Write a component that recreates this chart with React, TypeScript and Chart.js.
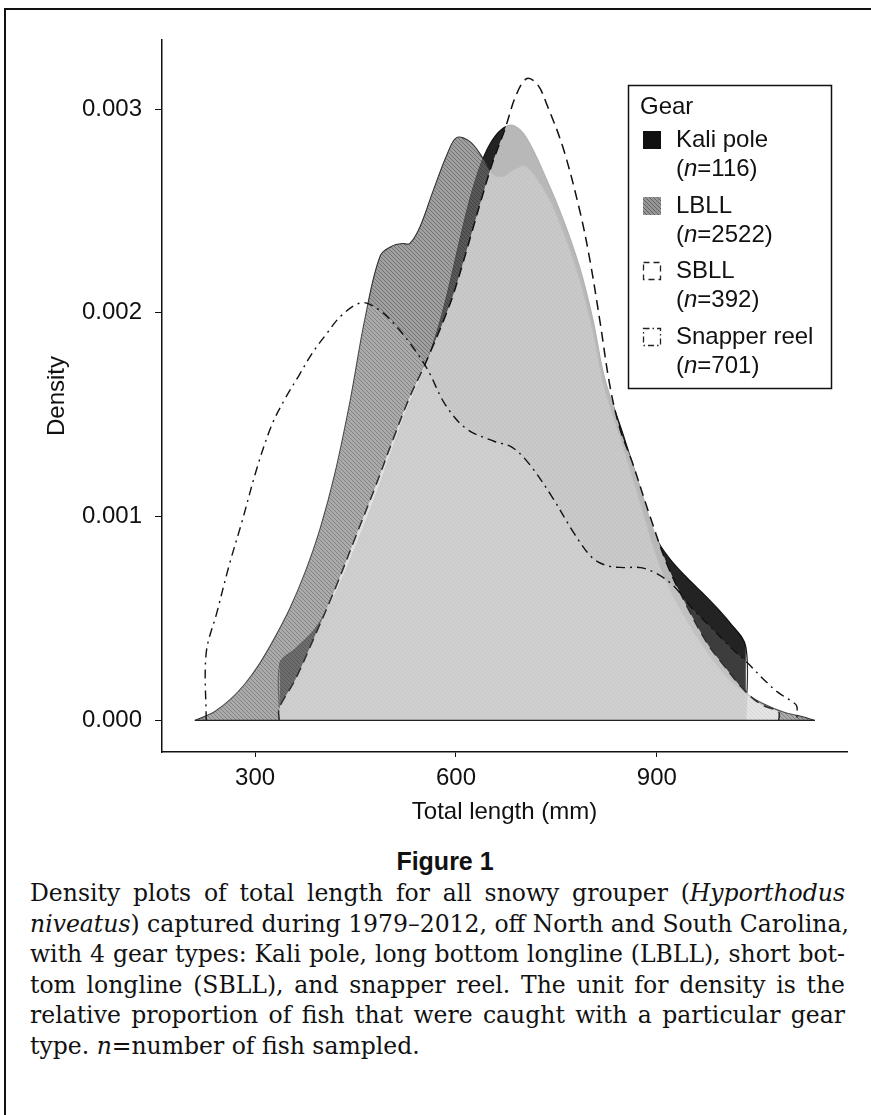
import React, { useEffect, useRef } from "react";
import { Chart, registerables } from "chart.js";

Chart.register(...registerables);

// ---------- data ----------
const xTickValues = [300, 600, 900];
const yTickValues = [0, 0.001, 0.002, 0.003];
const gearNames = ["Kali pole", "LBLL", "SBLL", "Snapper reel"];
const gearCounts = [116, 2522, 392, 701];

const kaliLength = [337, 337, 360, 390, 420, 450, 480, 505, 530, 550, 571, 586, 606, 621, 636, 651, 668, 685, 705, 736, 760, 785, 805, 822, 850, 876, 900, 920, 945, 976, 1009, 1033, 1033];
const kaliDensity = [0, 0.00028, 0.00035, 0.00045, 0.00062, 0.00085, 0.0011, 0.00133, 0.00155, 0.0017, 0.0019, 0.00208, 0.00236, 0.00256, 0.00272, 0.00283, 0.0029, 0.00292, 0.00286, 0.00265, 0.00246, 0.00222, 0.00196, 0.00168, 0.0014, 0.00113, 0.00089, 0.00079, 0.0007, 0.0006, 0.00048, 0.00036, 0];

const lbllLength = [210, 225, 240, 263, 285, 307, 330, 352, 375, 397, 419, 442, 464, 487, 506, 520, 531, 546, 566, 587, 601, 621, 640, 655, 670, 690, 705, 736, 760, 785, 805, 822, 850, 876, 900, 920, 945, 970, 1000, 1030, 1060, 1090, 1115, 1136];
const lbllDensity = [0, 0.00002, 0.000044, 0.000103, 0.00018, 0.00028, 0.00041, 0.00055, 0.00073, 0.00094, 0.00121, 0.00157, 0.00197, 0.00228, 0.00233, 0.00234, 0.00234, 0.00242, 0.0026, 0.00278, 0.00286, 0.00284, 0.00276, 0.00268, 0.00267, 0.00271, 0.00272, 0.00258, 0.0024, 0.00216, 0.0019, 0.00163, 0.00134, 0.00106, 0.0008, 0.00064, 0.00049, 0.00036, 0.00023, 0.00014, 0.00008, 0.00004, 0.00002, 0];

const sbllLength = [336, 336, 360, 390, 420, 450, 480, 505, 530, 550, 566, 580, 595, 610, 625, 640, 655, 673, 690, 706, 722, 736, 760, 785, 800, 815, 830, 845, 863, 890, 916, 945, 975, 1000, 1030, 1055, 1082, 1082];
const sbllDensity = [0, 0.00006, 0.0002, 0.00042, 0.00065, 0.0009, 0.00115, 0.00137, 0.00158, 0.00172, 0.00184, 0.00195, 0.00208, 0.00224, 0.00241, 0.00258, 0.00274, 0.0029, 0.00307, 0.00315, 0.00312, 0.00302, 0.00281, 0.0025, 0.00226, 0.00196, 0.00164, 0.00143, 0.00127, 0.001, 0.00076, 0.00056, 0.00038, 0.00027, 0.00015, 0.00008, 0.00004, 0];

const snapperLength = [227, 227, 243, 262, 280, 303, 325, 345, 365, 385, 405, 430, 460, 487, 512, 536, 558, 584, 616, 657, 684, 709, 743, 776, 803, 825, 850, 876, 900, 925, 950, 980, 1010, 1036, 1060, 1080, 1103, 1109, 1109];
const snapperDensity = [0, 0.00033, 0.00053, 0.00077, 0.00097, 0.00124, 0.00145, 0.00158, 0.00169, 0.0018, 0.00189, 0.00199, 0.00205, 0.00201, 0.00193, 0.00183, 0.00172, 0.00155, 0.00143, 0.00137, 0.00134, 0.00126, 0.0011, 0.00092, 0.0008, 0.00076, 0.00075, 0.00075, 0.00072, 0.00066, 0.00056, 0.00046, 0.00036, 0.00028, 0.0002, 0.00014, 0.00009, 0.00007, 0];

const captionLines = [
  ["Density plots of total length for all snowy grouper (", "Hyporthodus", ""],
  ["", "niveatus", ") captured during 1979–2012, off North and South Carolina,"],
  ["with 4 gear types: Kali pole, long bottom longline (LBLL), short bot-", "", ""],
  ["tom longline (SBLL), and snapper reel. The unit for density is the", "", ""],
  ["relative proportion of fish that were caught with a particular gear", "", ""],
  ["type. ", "n", "=number of fish sampled."],
];

const SANS = '"Liberation Sans", Arial, Helvetica, sans-serif';

const pts = (xs: number[], ys: number[]) => xs.map((x, i) => ({ x, y: ys[i] }));

function makeHatch(base: string, line: string): CanvasPattern | string {
  const c = document.createElement("canvas");
  c.width = 4;
  c.height = 4;
  const g = c.getContext("2d");
  if (!g) return base;
  g.fillStyle = base;
  g.fillRect(0, 0, 4, 4);
  for (let i = 0; i < 4; i++) {
    g.clearRect(i, i, 1, 1);
    g.fillStyle = line;
    g.fillRect(i, i, 1, 1);
  }
  return g.createPattern(c, "repeat") || base;
}

export default function App() {
  const ref = useRef<HTMLCanvasElement | null>(null);

  useEffect(() => {
    const canvas = ref.current;
    if (!canvas) return;
    const hatch = makeHatch("rgba(115,115,115,0.68)", "rgba(75,75,75,0.78)");
    const hatchSwatch = makeHatch("rgb(150,150,150)", "rgb(100,100,100)");

    const allX = [kaliLength, lbllLength, sbllLength, snapperLength];
    const baseMin = Math.min(...allX.map((a) => a[0]));
    const baseMax = Math.max(...allX.map((a) => a[a.length - 1]));

    const legendPlugin = {
      id: "gearLegend",
      afterDraw(chart: any) {
        const ctx: CanvasRenderingContext2D = chart.ctx;
        const bx = 628, by = 85, bw = 203, bh = 303;
        ctx.save();
        ctx.fillStyle = "#fff";
        ctx.fillRect(bx, by, bw, bh);
        ctx.strokeStyle = "#111";
        ctx.lineWidth = 1.5;
        ctx.setLineDash([]);
        ctx.strokeRect(bx + 0.5, by + 0.5, bw, bh);
        ctx.fillStyle = "#111";
        ctx.textBaseline = "middle";
        ctx.textAlign = "left";
        const normal = `24px ${SANS}`;
        const italic = `italic 24px ${SANS}`;
        ctx.font = normal;
        ctx.fillText("Gear", 640, 107);
        const rowY = [140, 206, 271, 337];
        const tx = 676;
        gearNames.forEach((name, i) => {
          const y = rowY[i];
          const sx = 643, sy = y - 9, ss = 18;
          if (i === 0) {
            ctx.fillStyle = "#111";
            ctx.fillRect(sx, sy, ss, ss);
          } else if (i === 1) {
            ctx.fillStyle = hatchSwatch as any;
            ctx.fillRect(sx, sy, ss, ss);
          } else {
            ctx.strokeStyle = "#222";
            ctx.lineWidth = 1.3;
            ctx.setLineDash(i === 2 ? [6, 4] : [6, 3, 1.5, 3]);
            ctx.strokeRect(sx + 0.5, sy + 0.5, ss - 1, ss - 1);
            ctx.setLineDash([]);
          }
          ctx.fillStyle = "#111";
          ctx.font = normal;
          ctx.fillText(name, tx, y);
          const y2 = y + 29;
          let x = tx;
          ctx.fillText("(", x, y2);
          x += ctx.measureText("(").width;
          ctx.font = italic;
          ctx.fillText("n", x, y2);
          x += ctx.measureText("n").width;
          ctx.font = normal;
          ctx.fillText("=" + gearCounts[i] + ")", x, y2);
        });
        ctx.restore();
      },
    };

    const common = {
      pointRadius: 0,
      tension: 0.35,
      fill: "origin",
    };

    const chart = new Chart(canvas, {
      type: "line",
      data: {
        datasets: [
          {
            ...common,
            label: gearNames[0],
            data: pts(kaliLength, kaliDensity),
            backgroundColor: "rgba(18,18,18,0.93)",
            borderColor: "#111",
            borderWidth: 1.2,
            order: 4,
          },
          {
            ...common,
            label: gearNames[1],
            data: pts(lbllLength, lbllDensity),
            backgroundColor: hatch as any,
            borderColor: "#333",
            borderWidth: 1.1,
            order: 3,
          },
          {
            ...common,
            label: gearNames[2],
            data: pts(sbllLength, sbllDensity),
            backgroundColor: "rgba(255,255,255,0.68)",
            borderColor: "#111",
            borderWidth: 1.5,
            borderDash: [10, 6],
            order: 2,
          },
          {
            ...common,
            label: gearNames[3],
            data: pts(snapperLength, snapperDensity),
            backgroundColor: "rgba(255,255,255,0.12)",
            borderColor: "#111",
            borderWidth: 1.4,
            borderDash: [9, 5, 2, 5],
            order: 1,
          },
          {
            label: "baseline",
            data: [
              { x: baseMin, y: 0 },
              { x: baseMax, y: 0 },
            ],
            borderColor: "#222",
            borderWidth: 1.2,
            pointRadius: 0,
            fill: false,
            order: 0,
          },
        ] as any,
      },
      options: {
        animation: false,
        responsive: false,
        events: [],
        layout: { padding: { left: 0, right: 24, top: 40, bottom: 0 } },
        plugins: {
          legend: { display: false },
          tooltip: { enabled: false },
        },
        scales: {
          x: {
            type: "linear",
            min: 161,
            max: 1184,
            afterBuildTicks: (s: any) => {
              s.ticks = xTickValues.map((v) => ({ value: v }));
            },
            afterFit: (s: any) => {
              s.height = 840 - 752;
            },
            grid: { display: true, drawOnChartArea: false, drawTicks: true, tickLength: 5, color: "#111", lineWidth: 1 },
            border: { display: true, color: "#111", width: 1.5 },
            ticks: {
              color: "#111",
              font: { family: SANS, size: 24 },
              padding: 7,
              maxRotation: 0,
              autoSkip: false,
              callback: (v: any) => String(v),
            },
            title: {
              display: true,
              text: "Total length (mm)",
              color: "#111",
              font: { family: SANS, size: 24 },
              padding: { top: 0, bottom: 13 },
            },
          },
          y: {
            type: "linear",
            min: -0.000155,
            max: 0.003339,
            afterBuildTicks: (s: any) => {
              s.ticks = yTickValues.map((v) => ({ value: v }));
            },
            afterFit: (s: any) => {
              s.width = 162;
            },
            grid: { display: true, drawOnChartArea: false, drawTicks: true, tickLength: 7, color: "#111", lineWidth: 1 },
            border: { display: true, color: "#111", width: 1.5 },
            ticks: {
              color: "#111",
              font: { family: SANS, size: 24 },
              padding: 13,
              autoSkip: false,
              callback: (v: any) => Number(v).toFixed(3),
            },
            title: {
              display: true,
              text: "Density",
              color: "#111",
              font: { family: SANS, size: 24 },
              padding: { top: 43, bottom: 0 },
            },
          },
        },
      } as any,
      plugins: [legendPlugin],
    });

    return () => chart.destroy();
  }, []);

  return (
    <div style={{ position: "absolute", left: 0, top: 0, width: 871, height: 1115, background: "#fff", overflow: "hidden" }}>
      <div
        style={{
          position: "absolute",
          left: 4,
          top: 8,
          width: 880,
          height: 1120,
          borderTop: "2px solid #111",
          borderLeft: "2px solid #111",
        }}
      />
      <canvas ref={ref} width={871} height={840} style={{ position: "absolute", left: 0, top: 0, width: 871, height: 840 }} />
      <div
        style={{
          position: "absolute",
          left: 0,
          top: 847,
          width: 890,
          textAlign: "center",
          font: `bold 25px ${SANS}`,
          color: "#111",
        }}
      >
        Figure 1
      </div>
      <div
        style={{
          position: "absolute",
          left: 30,
          top: 878,
          width: 815,
          font: '23.5px "DejaVu Serif", serif',
          lineHeight: "30.6px",
          color: "#111",
        }}
      >
        {captionLines.map((ln, i) => (
          <div
            key={i}
            style={{
              whiteSpace: "nowrap",
              textAlign: "justify",
              textAlignLast: i === captionLines.length - 1 ? "left" : "justify",
            } as any}
          >
            {ln[0]}
            {ln[1] ? <i>{ln[1]}</i> : null}
            {ln[2]}
          </div>
        ))}
      </div>
    </div>
  );
}
